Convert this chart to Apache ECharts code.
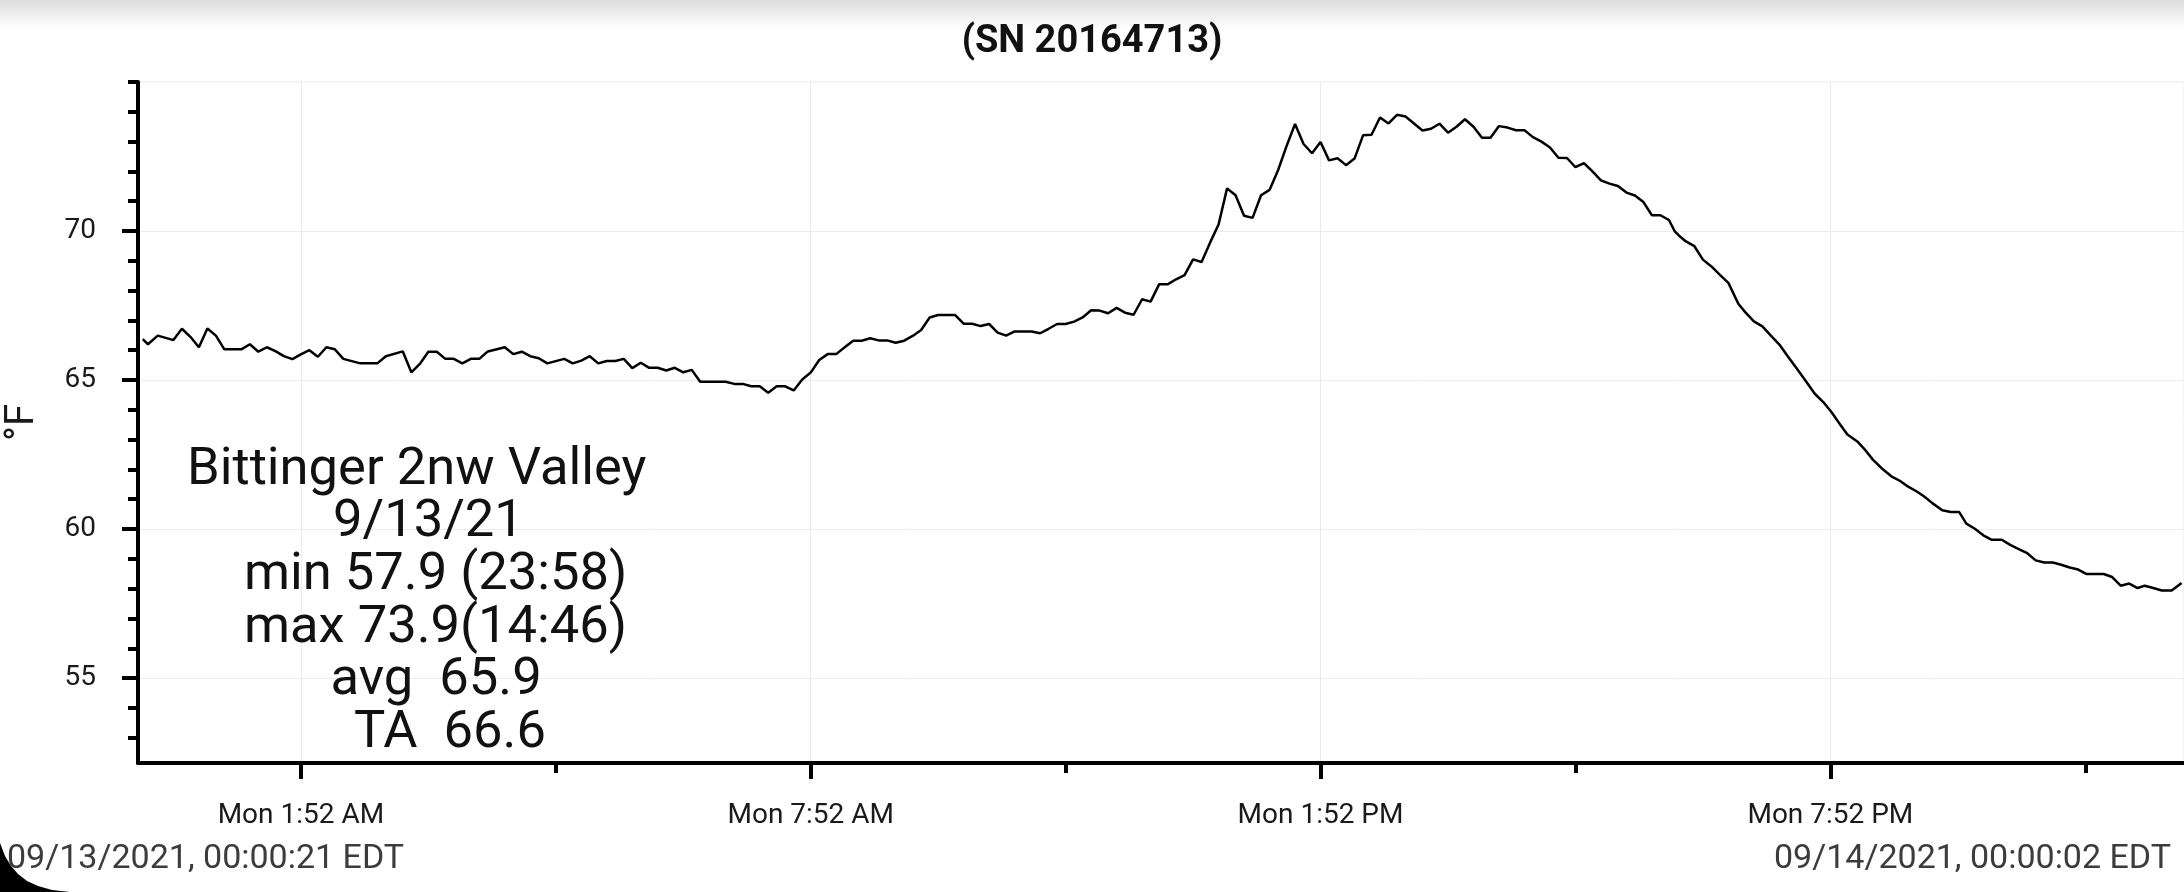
<!DOCTYPE html>
<html>
<head>
<meta charset="utf-8">
<script src="https://cdn.jsdelivr.net/npm/echarts@6.0.0/dist/echarts.min.js"></script>
<style>
  html, body { margin: 0; padding: 0; background: #fff; }
  #chart { width: 2184px; height: 892px; }
</style>
</head>
<body>
<div id="chart"></div>
<script>
// ---- data ----
const chartTitle = '(SN 20164713)';
const yAxisName = '°F';

// minutes after midnight 9/13/2021 (EDT)
const timesMin = [
  0.35,4,11,22,28,34,40,46,52,58,70,76,82,88,94,100,106,112,118,124,
  130,136,142,154,166,172,184,190,196,202,208,214,220,226,232,238,244,256,262,268,
  274,280,286,298,304,310,316,322,328,334,340,346,352,
  358,364,370,376,382,388,394,412,418,424,430,436,442,448,454,460,466,472,478,484,
  490,496,502,508,514,520,526,532,538,544,550,556,562,574,580,586,592,598,604,610,
  616,628,634,640,646,652,658,664,670,676,682,688,694,700,706,712,
  718,724,730,736,742,748,754,760,766,772,778,784,790,796,802,808,814,820,826,832,
  838,844,850,856,862,868,874,880,886,892,898,904,910,916,922,928,934,940,946,952,
  958,964,970,976,982,988,994,1000,1006,1012,1018,1024,1030,1036,1042,1048,1054,1060,1066,1072,
  1078,
  1082,1085,1090,1096,1102,1108,1114,1120,1127,1132,1138,1144,1150,1156,1162,1168,1174,1181,1187,1193,
  1199,1204,1211,1217,1222,1228,1235,1241,1246,1253,1258,1264,1271,1277,1283,1288,1294,1300,
  1306,1313,1319,1325,1331,1337,1343,1349,1355,1361,1367,1373,1385,1391,1397,1403,1409,1414,1420,1426,
  1433,1440
];
// temperature, °F
const tempsF = [
  66.37,66.2,66.49,66.34,66.72,66.45,66.1,66.73,66.49,66.03,66.03,66.2,65.95,66.1,65.97,65.8,65.7,65.86,66.0,65.78,
  66.1,66.03,65.71,65.56,65.56,65.8,65.96,65.26,65.54,65.95,65.95,65.71,65.71,65.56,65.71,65.71,65.96,66.1,65.87,65.95,
  65.8,65.73,65.56,65.71,65.56,65.65,65.8,65.56,65.64,65.64,65.71,65.4,65.58,
  65.41,65.41,65.32,65.41,65.26,65.34,64.94,64.94,64.87,64.87,64.79,64.79,64.57,64.79,64.79,64.65,65.02,65.25,65.67,65.87,
  65.87,66.1,66.32,66.32,66.4,66.33,66.33,66.25,66.32,66.48,66.68,67.1,67.18,67.18,66.89,66.89,66.81,66.88,66.59,66.49,
  66.63,66.63,66.57,66.72,66.88,66.88,66.96,67.1,67.34,67.33,67.24,67.42,67.26,67.19,67.71,67.63,
  68.21,68.21,68.38,68.52,69.05,68.96,69.61,70.22,71.43,71.2,70.51,70.44,71.2,71.38,72.04,72.85,73.59,72.92,72.61,72.99,
  72.37,72.44,72.21,72.43,73.21,73.23,73.81,73.61,73.9,73.84,73.61,73.37,73.43,73.6,73.3,73.5,73.75,73.5,73.13,73.13,
  73.52,73.47,73.38,73.38,73.15,73.0,72.8,72.46,72.45,72.14,72.28,72.0,71.7,71.59,71.51,71.29,71.19,70.97,70.53,70.53,
  70.37,
  70.0,69.85,69.65,69.49,69.04,68.81,68.53,68.26,67.56,67.27,66.97,66.8,66.49,66.19,65.79,65.4,65.01,64.54,64.26,63.91,
  63.5,63.17,62.94,62.63,62.33,62.05,61.77,61.62,61.45,61.26,61.1,60.87,60.63,60.57,60.57,60.18,60.01,59.79,
  59.64,59.64,59.47,59.33,59.19,58.95,58.88,58.88,58.8,58.71,58.64,58.49,58.49,58.39,58.1,58.17,58.02,58.1,58.02,57.94,
  57.94,58.19
];

const yMajorTicks = [55, 60, 65, 70];
const yMinorTicks = [53, 54, 56, 57, 58, 59, 61, 62, 63, 64, 66, 67, 68, 69, 71, 72, 73, 74, 75];
const xMajorTicks = [112, 472, 832, 1192];
const xTickLabels = ['Mon 1:52 AM', 'Mon 7:52 AM', 'Mon 1:52 PM', 'Mon 7:52 PM'];
const xMinorTicks = [292, 652, 1012, 1372];

const statsLines = ['Bittinger 2nw Valley', '9/13/21', 'min 57.9 (23:58)', 'max 73.9(14:46)', 'avg  65.9', 'TA  66.6'];
const startStamp = '09/13/2021, 00:00:21 EDT';
const endStamp = '09/14/2021, 00:00:02 EDT';

// ---- chart ----
const seriesData = timesMin.map((t, i) => [t, tempsF[i]]);
const X_MIN = -3, X_MAX = 1441.7, Y_MIN = 52.15, Y_MAX = 75;
const FONT = 'Roboto';

const statsX = [187, 333, 244, 244, 330.5, 354];
const statsTop = 470.5, statsStep = 52.7;

const graphics = [
  {
    type: 'rect', silent: true, z: 0,
    shape: { x: 0, y: 0, width: 2184, height: 30 },
    style: { fill: new echarts.graphic.LinearGradient(0, 0, 0, 1, [
      { offset: 0, color: '#dedede' }, { offset: 1, color: '#ffffff' }]) }
  },
  {
    type: 'polygon', silent: true, z: 100,
    shape: { points: [[0, 843], [5, 856], [11, 866], [18, 874], [27, 881], [38, 886], [52, 890], [70, 892], [0, 892]] },
    style: { fill: '#000' }
  },
  {
    type: 'text', x: 7, y: 859.5, z: 50,
    style: { text: startStamp, fontSize: 34, fontFamily: FONT, fill: '#3c3c3c',
             textAlign: 'left', textVerticalAlign: 'middle' }
  },
  {
    type: 'text', x: 2171, y: 859.5, z: 50,
    style: { text: endStamp, fontSize: 34, fontFamily: FONT, fill: '#3c3c3c',
             textAlign: 'right', textVerticalAlign: 'middle' }
  }
];
statsLines.forEach((line, i) => {
  graphics.push({
    type: 'text', x: statsX[i], y: statsTop + i * statsStep, z: 50,
    style: { text: line, fontSize: 52.5, fontFamily: FONT, fill: '#111',
             textAlign: 'left', textVerticalAlign: 'middle' }
  });
});

const gridRect = { left: 138, right: 0, top: 82, bottom: 129, containLabel: false, outerBoundsMode: 'none' };

const option = {
  animation: false,
  backgroundColor: '#ffffff',
  textStyle: { fontFamily: FONT },
  title: {
    text: chartTitle, left: 'center', top: 23, padding: 0,
    textStyle: { fontFamily: FONT, fontWeight: 'bold', fontSize: 38, color: '#111' }
  },
  grid: [
    Object.assign({ show: true, borderColor: '#e9e9e9', borderWidth: 1 }, gridRect),
    Object.assign({}, gridRect)
  ],
  xAxis: [
    {
      type: 'value', gridIndex: 0, min: X_MIN, max: X_MAX,
      axisLine: { show: true, onZero: false, lineStyle: { color: '#000', width: 4 } },
      axisTick: { show: true, customValues: xMajorTicks, length: 16, lineStyle: { color: '#000', width: 4 } },
      axisLabel: {
        show: true, customValues: xMajorTicks, fontSize: 28, fontFamily: FONT, color: '#1a1a1a', margin: 39,
        formatter: v => { const k = xMajorTicks.indexOf(v); return k >= 0 ? xTickLabels[k] : ''; }
      },
      splitLine: { show: true, lineStyle: { color: '#ebebeb', width: 1 } }
    },
    {
      type: 'value', gridIndex: 1, min: X_MIN, max: X_MAX,
      axisLine: { show: false, onZero: false },
      axisTick: { show: true, customValues: xMinorTicks, length: 10, lineStyle: { color: '#000', width: 4 } },
      axisLabel: { show: false },
      splitLine: { show: false }
    }
  ],
  yAxis: [
    {
      type: 'value', gridIndex: 0, min: Y_MIN, max: Y_MAX,
      name: yAxisName, nameLocation: 'middle', nameGap: 95, nameRotate: 90,
      nameTextStyle: { fontSize: 40, fontFamily: FONT, color: '#1a1a1a' },
      axisLine: { show: true, onZero: false, lineStyle: { color: '#000', width: 4 } },
      axisTick: { show: true, customValues: yMajorTicks, length: 16, lineStyle: { color: '#000', width: 4 } },
      axisLabel: { show: true, customValues: yMajorTicks, fontSize: 28, fontFamily: FONT, color: '#1a1a1a', margin: 42 },
      splitLine: { show: true, lineStyle: { color: '#ebebeb', width: 1 } }
    },
    {
      type: 'value', gridIndex: 1, min: Y_MIN, max: Y_MAX,
      axisLine: { show: false, onZero: false },
      axisTick: { show: true, customValues: yMinorTicks, length: 10, lineStyle: { color: '#000', width: 4 } },
      axisLabel: { show: false },
      splitLine: { show: false }
    }
  ],
  series: [
    {
      type: 'line', xAxisIndex: 0, yAxisIndex: 0,
      data: seriesData, showSymbol: false, symbol: 'none', smooth: false,
      lineStyle: { color: '#000', width: 2.5 },
      z: 10
    }
  ],
  graphic: graphics
};

const chart = echarts.init(document.getElementById('chart'), null, { renderer: 'canvas' });
chart.setOption(option);
</script>
</body>
</html>
